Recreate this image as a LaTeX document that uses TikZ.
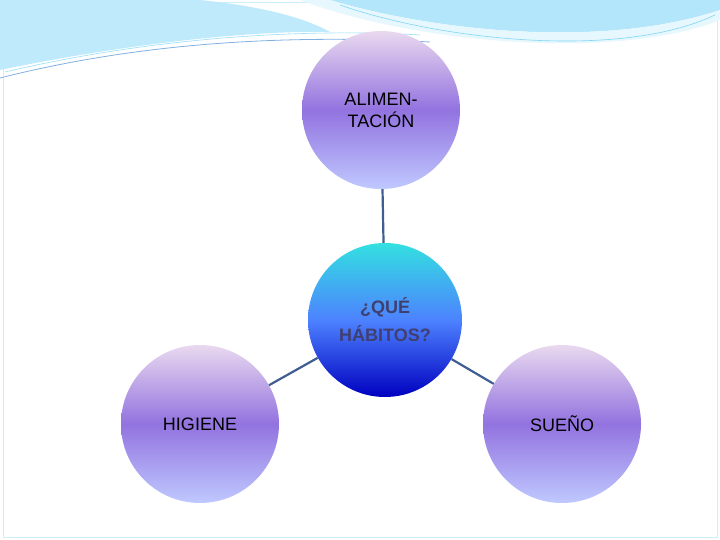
\documentclass[tikz,border=0pt]{standalone}
\usepackage{fontspec}
\setmainfont{Liberation Sans}
\begin{document}
\begin{tikzpicture}[x=1pt,y=-1pt,
  bub/.style={circle,minimum size=158pt,inner sep=0pt,align=center,font=\fontsize{18}{22}\selectfont,
    top color=#1,bottom color=cyan!15!blue!25!white,middle color=violet!45!blue!55!white},
  link/.style={draw=cyan!40!blue!70!black,line width=2.2pt}]
\useasboundingbox (0,0) rectangle (720,540);
\fill[white] (0,0) rectangle (720,540);
\draw[cyan!20,line width=1pt] (3,3) rectangle (717,537);
% top swoosh
\fill[cyan!25!white] (0,0) -- (0,70) .. controls (120,45) and (250,30) .. (330,32) .. controls (300,15) and (250,5) .. (200,0) -- cycle;
\fill[cyan!30!white] (330,0) .. controls (430,30) and (600,50) .. (720,10) -- (720,0) -- cycle;
\fill[cyan!10!white] (300,0) .. controls (420,45) and (620,60) .. (720,20) -- (720,10) .. controls (600,50) and (430,30) .. (330,0) -- cycle;
\draw[cyan!60!blue!50,line width=0.8pt] (0,78) .. controls (150,40) and (300,35) .. (430,42);
\draw[cyan!40,line width=0.6pt] (5,72) .. controls (150,38) and (300,28) .. (420,35);
\draw[cyan!50,line width=0.6pt] (340,5) .. controls (440,40) and (620,60) .. (715,15);
\node[bub=blue!15!violet!15!white] (top) at (381,110) {ALIMEN-\\TACIÓN};
\node[bub=blue!15!violet!15!white] (left) at (200,424) {HIGIENE};
\node[bub=blue!15!violet!15!white] (right) at (562,424) {SUEÑO};
\node[circle,minimum size=154pt,inner sep=0pt,align=center,font=\fontsize{18}{28}\selectfont\bfseries,
  text=blue!25!black!75!white,top color=cyan!70!teal!80!white,bottom color=blue!75!black,middle color=cyan!30!blue!70!white]
  (mid) at (385,320) {¿QUÉ\\HÁBITOS?};
\draw[link] (top) -- (mid);
\draw[link] (left) -- (mid);
\draw[link] (right) -- (mid);
\end{tikzpicture}
\end{document}
